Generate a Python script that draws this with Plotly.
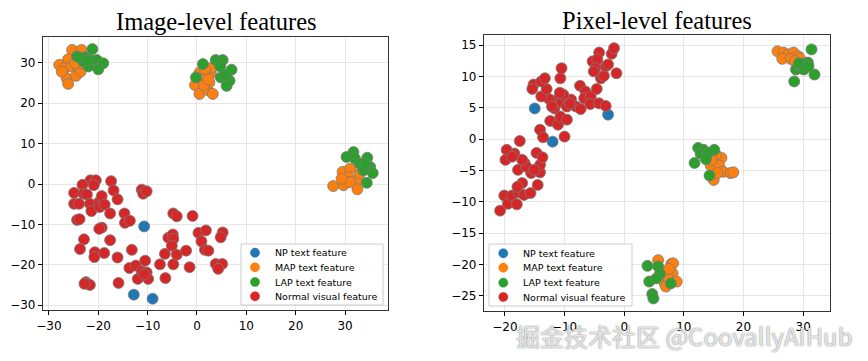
import plotly.graph_objects as go

# ---------------- Image-level features (left) ----------------
img_np_x = [-10.7, -12.8, -9.0]
img_np_y = [-10.5, -27.4, -28.4]

img_map_x = [-25.3, -23.4, -26.1, -27.9, -26.8, -25.4, -24.1, -26.4, -24.5, -23.6, -26.1, -27.4, -23.4, -24.7,
             -0.4, 0.5, 1.2, 0.5, 2.1, 3.2, 2.5, 2.8, 3.0, 1.6, 1.4, 2.3,
             27.6, 29.7, 29.5, 31.0, 30.7, 32.4, 32.5, 33.0, 31.0, 29.3]
img_map_y = [33.2, 33.2, 30.9, 29.5, 28.7, 29.1, 28.7, 26.2, 26.8, 27.8, 24.8, 27.8, 29.9, 29.9,
             24.5, 27.6, 25.8, 22.3, 23.3, 22.3, 25.1, 27.4, 28.8, 28.4, 24.5, 25.9,
             -0.5, -0.3, 3.0, 3.8, 1.7, 0.9, -1.3, 2.6, 0.5, 1.3]

img_lap_x = [-21.2, -24.3, -22.7, -21.6, -20.3, -19.0, -20.0, -22.0, -23.0, -23.7, -22.2,
             1.2, -0.2, 3.8, 5.2, 4.7, 4.8, 7.0, 6.6, 6.0, 5.7,
             30.3, 31.7, 32.0, 33.0, 34.5, 35.1, 35.6, 34.4, 33.7, 34.1]
img_lap_y = [33.4, 31.6, 31.4, 30.7, 30.7, 29.9, 28.4, 29.1, 30.3, 31.2, 30.6,
             29.7, 26.4, 30.7, 30.7, 29.1, 26.4, 28.3, 25.6, 24.3, 27.0,
             6.7, 7.9, 6.3, 5.0, 6.5, 4.2, 2.7, 0.3, 3.4, 5.0]

img_norm_x = [-21.6, -20.5, -20.9, -23.2, -24.9, -23.0, -22.3, -24.9, -23.9, -21.7, -24.3, -23.8, -21.4,
              -19.8, -19.3, -19.7, -18.7, -19.3, -19.8, -17.4, -16.9, -16.1, -17.6, -22.9, -23.7, -20.7,
              -20.8, -18.8, -17.6, -16.1, -22.5, -22.2, -21.7, -22.8, -15.9, -14.7, -14.6, -13.6, -13.2,
              -11.2, -10.9, -10.2, -13.7, -12.4, -12.0, -11.2, -10.5, -10.2, -9.9, -10.7, -7.5, -6.5,
              -6.4, -4.8, -4.1, -5.8, -4.9, -4.8, -5.1, -4.1, -4.8, -2.2, -1.5, -0.9, 0.3, 1.8, 0.9,
              1.6, 2.3, 3.8, 5.1, 4.3, 5.2, 4.8]
img_norm_y = [0.9, 0.9, -0.3, -0.2, -2.2, -2.4, -2.6, -4.9, -4.9, -4.9, -8.9, -8.7, -6.7,
              -4.4, -3.0, -5.7, -5.1, -10.8, -11.1, 0.7, -1.6, -3.8, -7.3, -13.7, -16.1, -16.9,
              -18.1, -17.1, -13.9, -18.2, -24.3, -24.7, -25.0, -24.7, -24.5, -7.3, -9.6, -9.1, -16.3,
              -1.4, -2.4, -1.8, -20.8, -20.2, -23.5, -21.6, -19.0, -21.9, -23.5, -22.4, -19.9, -17.3,
              -23.3, -7.3, -8.0, -13.3, -12.5, -13.6, -15.3, -17.5, -19.9, -16.5, -20.6, -7.9, -12.1,
              -11.5, -14.2, -16.3, -16.5, -19.8, -19.8, -21.0, -12.0, -13.2]

# ---------------- Pixel-level features (right) ----------------
pix_np_x = [-15.0, -2.7, -12.0]
pix_np_y = [4.9, 3.9, -0.4]

pix_map_x = [25.7, 26.7, 27.5, 28.4, 26.5, 27.9, 29.2, 29.5, 28.6, 29.8,
             16.3, 15.4, 14.5, 15.9, 16.6, 17.8, 18.3, 15.0, 15.6, 14.6,
             5.7, 7.9, 8.2, 8.1, 8.8, 6.8, 7.0, 7.2, 7.5]
pix_map_y = [14.0, 13.8, 13.5, 13.8, 12.8, 12.8, 13.2, 12.8, 12.4, 12.0,
             -3.0, -2.5, -4.2, -4.2, -5.2, -5.4, -5.3, -6.5, -5.4, -3.3,
             -19.3, -19.9, -19.8, -21.4, -22.7, -23.0, -23.5, -21.9, -20.7]

pix_lap_x = [31.4, 31.9, 28.5, 28.8, 29.6, 30.5, 30.8, 30.1, 29.3, 30.9,
             12.4, 13.3, 15.1, 11.8, 12.8, 14.1, 14.3, 13.7,
             3.9, 4.2, 5.7, 6.0, 4.7, 4.9, 7.8, 5.4]
pix_lap_y = [14.3, 10.3, 9.2, 11.1, 11.3, 12.1, 12.2, 11.1, 12.1, 11.6,
             -1.4, -1.7, -1.7, -3.8, -2.3, -2.2, -5.8, -3.2,
             -20.2, -22.7, -20.3, -21.5, -24.7, -25.4, -23.0, -22.2]

pix_norm_x = [-20.8, -20.1, -19.5, -18.8, -18.0, -17.7, -17.1, -17.9, -16.8, -15.7, -14.5, -15.6, -14.1,
              -14.1, -14.7, -13.7, -16.7, -17.8, -16.4, -15.1, -17.1, -18.4, -19.7, -19.9, -18.8, -17.5,
              -14.1, -13.6, -10.0, -12.4, -11.1, -10.7, -9.6, -11.7, -11.1, -10.5, -9.6, -8.9, -8.1,
              -7.3, -10.2, -10.8, -12.6, -13.9, -13.0, -15.2, -15.4, -13.9, -13.3, -10.7, -10.5, -7.4,
              -6.5, -6.7, -5.6, -4.6, -5.7, -4.2, -3.1, -5.3, -4.2, -4.5, -4.8, -5.1, -3.9, -3.4, -3.1,
              -2.7, -2.1, -1.7, -1.3, -9.1, -12.1]
pix_norm_y = [-11.4, -9.0, -10.3, -9.0, -10.4, -8.5, -7.0, -7.6, -8.9, -8.6, -7.3, -5.4, -5.3,
              -4.1, -2.2, -2.9, -3.8, -4.9, -4.4, -4.9, -3.3, -2.3, -1.7, -3.3, -2.8, -0.3,
              1.5, 0.3, 0.4, 2.9, 2.3, 3.6, 3.1, 4.9, 6.4, 5.9, 5.2, 6.3, 5.2,
              4.8, 7.1, 7.4, 6.4, 6.8, 8.0, 8.7, 8.0, 9.2, 9.7, 9.7, 11.3, 8.5,
              7.6, 6.5, 6.8, 8.0, 5.6, 5.7, 5.3, 12.4, 13.8, 12.7, 11.3, 10.8, 9.7, 10.1, 11.6,
              11.9, 13.6, 14.5, 10.5, 5.6, 5.2]

labels = ["NP text feature", "MAP text feature", "LAP text feature", "Normal visual feature"]
colors = ["#1f77b4", "#ff7f0e", "#2ca02c", "#d62728"]

left_sets = [(img_np_x, img_np_y), (img_map_x, img_map_y), (img_lap_x, img_lap_y), (img_norm_x, img_norm_y)]
right_sets = [(pix_np_x, pix_np_y), (pix_map_x, pix_map_y), (pix_lap_x, pix_lap_y), (pix_norm_x, pix_norm_y)]

W, H = 868, 361
def px(x):
    return x / W
def py(y):
    return 1 - y / H

fig = go.Figure()
for (xs, ys), lab, col in zip(left_sets, labels, colors):
    fig.add_trace(go.Scatter(x=xs, y=ys, mode="markers", name=lab, showlegend=False,
                             marker=dict(size=11, color=col, line=dict(color="#7a7a7a", width=0.8)),
                             xaxis="x", yaxis="y"))
for (xs, ys), lab, col in zip(right_sets, labels, colors):
    fig.add_trace(go.Scatter(x=xs, y=ys, mode="markers", name=lab, showlegend=False,
                             marker=dict(size=11, color=col, line=dict(color="#7a7a7a", width=0.8)),
                             xaxis="x2", yaxis="y2"))

axis_common = dict(showgrid=True, gridcolor="#e6e6e6", gridwidth=1, zeroline=False,
                   showline=True, linecolor="#333333", linewidth=1.2, mirror=True,
                   ticks="outside", ticklen=4, tickcolor="#000000", tickwidth=1,
                   tickfont=dict(family="DejaVu Sans", size=12, color="#000000"),
                   automargin=False)

# compact legends (matplotlib-like), drawn as paper shapes + annotations
shapes = []
annotations = []
legend_boxes = [
    # box x0, x1, y0, y1, marker x, text x, row y's
    (241, 383, 244, 305, 255, 272.5, [252.7, 267.3, 282.0, 296.3]),
    (489, 632, 244, 306, 503.3, 521.3, [253.3, 267.7, 282.7, 297.0]),
]
for bx0, bx1, by0, by1, mx, tx, rows in legend_boxes:
    shapes.append(dict(type="rect", xref="paper", yref="paper", layer="above",
                       x0=px(bx0), x1=px(bx1), y0=py(by1), y1=py(by0),
                       fillcolor="rgba(255,255,255,0.85)", line=dict(color="#cccccc", width=1)))
    for lab, col, ry in zip(labels, colors, rows):
        r = 4.6
        shapes.append(dict(type="circle", xref="paper", yref="paper", layer="above",
                           x0=px(mx - r), x1=px(mx + r), y0=py(ry + r), y1=py(ry - r),
                           fillcolor=col, line=dict(color=col, width=0.5)))
        annotations.append(dict(text=lab, x=px(tx), y=py(ry), xref="paper", yref="paper",
                                xanchor="left", yanchor="middle", showarrow=False,
                                font=dict(family="DejaVu Sans", size=9.5, color="#000")))

annotations += [
    dict(text="Image-level features", x=px(216), y=py(22), xref="paper", yref="paper",
         xanchor="center", yanchor="middle", showarrow=False,
         font=dict(family="Liberation Serif", size=24.5, color="#000")),
    dict(text="Pixel-level features", x=px(657), y=py(20), xref="paper", yref="paper",
         xanchor="center", yanchor="middle", showarrow=False,
         font=dict(family="Liberation Serif", size=24.5, color="#000")),
    dict(text="掘金技术社区 @CoovallyAIHub", x=px(855), y=py(335), xref="paper", yref="paper",
         xanchor="right", yanchor="middle", showarrow=False,
         font=dict(family="Noto Sans CJK SC", size=24, color="rgba(238,238,238,0.92)",
                   shadow="0px 0px 1.5px #555")),
]

fig.update_layout(
    width=W, height=H,
    margin=dict(l=0, r=0, t=0, b=0),
    paper_bgcolor="white", plot_bgcolor="white",
    showlegend=False,
    xaxis=dict(domain=[px(43), px(388)], range=[-31.2, 38.7], tickvals=[-30, -20, -10, 0, 10, 20, 30], anchor="y", **axis_common),
    yaxis=dict(domain=[py(310), py(37)], range=[-31.2, 36.4], tickvals=[-30, -20, -10, 0, 10, 20, 30], anchor="x", **axis_common),
    xaxis2=dict(domain=[px(484), px(830)], range=[-23.5, 34.5], tickvals=[-20, -10, 0, 10, 20, 30], anchor="y2", **axis_common),
    yaxis2=dict(domain=[py(311), py(35)], range=[-27.4, 16.6], tickvals=[-25, -20, -15, -10, -5, 0, 5, 10, 15], anchor="x2", **axis_common),
    shapes=shapes,
    annotations=annotations,
)

fig.write_html("out.html", config={"displayModeBar": False},
               post_script="document.body.style.margin='0';document.body.style.overflow='hidden';")
